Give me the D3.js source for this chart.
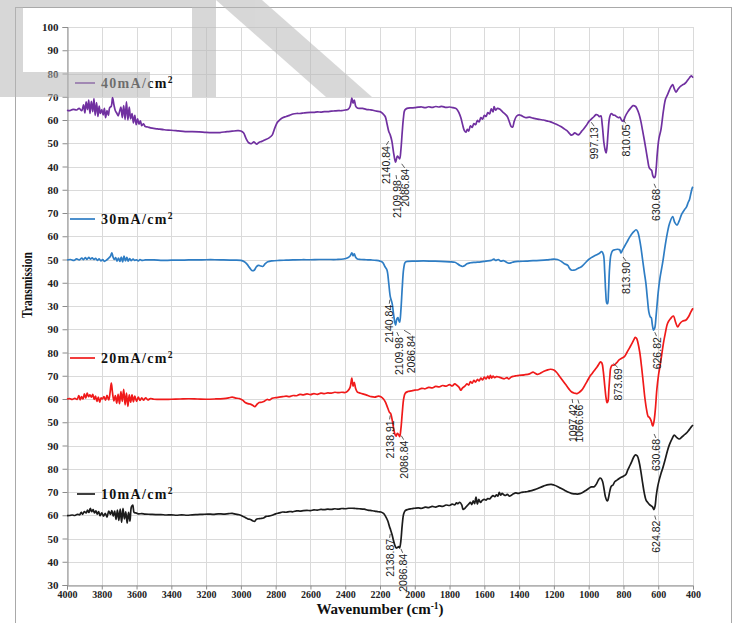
<!DOCTYPE html>
<html>
<head>
<meta charset="utf-8">
<script src="https://cdn.jsdelivr.net/npm/d3@7"></script>
<style>
  html, body { margin: 0; padding: 0; background: #fff; }
  svg { display: block; }
</style>
</head>
<body>
<svg id="chart" width="736" height="623"></svg>
<script>
// ---- axis values -------------------------------------------------------
const xTicks = [4000, 3800, 3600, 3400, 3200, 3000, 2800, 2600, 2400, 2200,
                2000, 1800, 1600, 1400, 1200, 1000, 800, 600, 400];

// stacked y-axis labels, top to bottom (one row per grid line)
const yTickLabels = [100, 90, 80, 70, 60, 50, 40,
                     80, 70, 60, 50, 40, 30,
                     90, 80, 70, 60, 50,
                     90, 80, 70, 60, 50, 40, 30];

// ---- series ------------------------------------------------------------
const seriesNames  = ["40mA/cm", "30mA/cm", "20mA/cm", "10mA/cm"];
const seriesColors = ["#7030a0", "#2e7dc4", "#f01a1a", "#1c1c1c"];
// row of yTickLabels where each spectrum's own scale starts
const panelStart   = [0, 7, 13, 18];

// spectra: [wavenumber (cm-1), transmission]
const spectrum40 = [
  [4000,64.2],[3985,64.0],[3965,64.6],[3945,64.3],[3930,65.0],[3915,64.0],[3905,66.5],[3897,63.0],
  [3890,67.8],[3882,64.5],[3875,68.6],[3868,62.8],[3860,68.0],[3852,63.6],[3845,69.2],[3838,62.0],
  [3830,67.5],[3822,61.5],[3815,66.0],[3808,62.8],[3800,64.5],[3792,62.2],[3785,65.0],[3778,61.0],
  [3770,64.0],[3762,62.0],[3755,65.2],[3745,66.0],[3738,69.6],[3730,66.5],[3722,64.0],[3714,63.0],
  [3706,61.8],[3698,63.5],[3690,65.5],[3682,61.0],[3674,66.2],[3666,60.2],[3658,67.8],[3650,60.0],
  [3642,65.5],[3634,60.5],[3626,62.8],[3618,58.8],[3610,62.0],[3602,58.0],[3594,60.5],[3586,58.2],
  [3578,59.6],[3570,57.6],[3560,58.3],[3550,57.2],[3535,57.0],[3520,56.6],[3480,56.2],[3440,55.8],
  [3400,55.6],[3360,55.3],[3320,55.0],[3280,55.0],[3240,54.9],[3200,54.7],[3160,54.6],[3120,54.6],
  [3080,55.0],[3050,55.2],[3020,55.4],[3000,55.3],[2985,54.5],[2970,52.0],[2955,50.2],[2940,49.8],
  [2925,50.6],[2910,49.6],[2895,50.4],[2880,50.8],[2860,51.5],[2840,52.2],[2820,53.5],[2810,55.5],
  [2800,57.5],[2790,59.0],[2775,60.2],[2760,61.0],[2740,61.5],[2720,62.0],[2700,62.6],[2680,62.8],
  [2660,62.8],[2640,63.0],[2620,63.2],[2600,63.3],[2580,63.3],[2560,63.5],[2540,63.4],[2520,63.6],
  [2500,63.6],[2480,63.8],[2460,63.9],[2440,64.0],[2420,64.0],[2400,64.3],[2385,64.5],[2372,65.8],
  [2362,69.4],[2355,67.2],[2348,68.6],[2340,66.0],[2330,65.2],[2320,65.0],[2300,65.0],[2280,64.6],
  [2260,64.4],[2240,64.2],[2220,63.8],[2200,63.6],[2185,62.8],[2170,61.5],[2160,58.5],[2150,55.2],
  [2140.84,53.5],[2132,51.0],[2122,46.0],[2115,43.0],[2109.98,41.9],[2100,44.5],[2094,44.0],
  [2086.84,43.3],[2080,47.0],[2072,55.0],[2065,61.0],[2058,64.2],[2045,65.0],[2020,65.2],[2000,65.3],
  [1980,65.5],[1960,65.6],[1940,65.3],[1920,65.7],[1900,65.4],[1880,65.8],[1860,65.6],[1845,65.9],
  [1820,65.4],[1800,65.6],[1780,65.3],[1760,64.8],[1745,63.0],[1735,61.0],[1725,58.0],[1715,55.5],
  [1705,54.8],[1698,56.0],[1690,55.2],[1680,57.5],[1670,56.8],[1660,58.5],[1650,58.0],[1640,59.8],
  [1630,59.2],[1620,61.0],[1610,60.4],[1600,62.0],[1590,61.5],[1580,63.2],[1570,62.6],[1560,64.8],
  [1550,63.5],[1544,65.8],[1535,64.2],[1525,65.0],[1510,64.6],[1495,63.5],[1480,62.5],[1468,61.5],
  [1455,59.0],[1445,57.2],[1437,57.0],[1428,59.5],[1415,61.6],[1400,62.2],[1390,62.0],[1375,61.4],
  [1360,61.0],[1340,61.2],[1320,60.8],[1300,60.5],[1280,60.2],[1260,60.0],[1240,59.6],[1220,59.2],
  [1200,58.6],[1180,58.0],[1160,57.2],[1140,56.2],[1125,55.4],[1110,54.2],[1100,53.5],[1090,53.8],
  [1080,54.5],[1070,54.0],[1060,53.6],[1050,54.2],[1040,55.2],[1030,56.0],[1015,57.5],[997.13,59.5],
  [985,60.4],[970,61.4],[958,62.3],[948,62.2],[938,61.4],[930,61.8],[922,58.0],[912,50.0],[905,47.0],
  [900,45.8],[895,48.0],[888,55.0],[880,61.0],[870,62.8],[860,62.2],[850,62.0],[840,61.5],[830,61.0],
  [820,61.2],[810.05,59.8],[800,59.6],[790,61.5],[775,63.5],[760,65.0],[745,66.2],[730,65.8],
  [720,64.5],[710,62.5],[700,59.5],[690,55.5],[680,51.4],[670,47.0],[660,42.5],[652,39.5],[645,38.8],
  [638,38.3],[634,37.0],[630.68,36.0],[624,35.2],[618,35.6],[612,39.0],[605,46.0],[596,52.0],
  [584,56.0],[570,64.0],[558,69.0],[546,71.0],[535,73.0],[525,74.5],[517,75.2],[508,73.5],[498,72.0],
  [488,73.0],[476,74.2],[462,75.0],[450,75.5],[440,76.2],[430,77.2],[420,78.2],[410,79.0],[404,78.6],
  [400,78.2]
];

const spectrum30 = [
  [4000,49.8],[3980,50.0],[3960,49.6],[3945,50.3],[3930,49.8],[3915,50.6],[3905,49.9],[3895,50.8],
  [3885,50.0],[3875,50.9],[3865,50.2],[3855,50.7],[3845,50.0],[3835,50.5],[3825,49.6],[3815,50.3],
  [3805,49.4],[3795,50.0],[3785,49.2],[3772,49.8],[3760,50.6],[3750,51.4],[3742,52.9],[3735,51.0],
  [3728,50.0],[3720,50.8],[3712,49.3],[3704,50.6],[3696,49.2],[3688,51.0],[3680,49.0],[3672,51.5],
  [3664,49.4],[3656,50.9],[3648,49.3],[3640,50.4],[3630,49.5],[3620,50.2],[3610,49.6],[3600,49.9],
  [3590,49.4],[3580,50.0],[3570,49.6],[3550,49.8],[3500,49.8],[3450,49.6],[3400,49.7],[3350,49.7],
  [3300,49.8],[3250,49.8],[3200,49.9],[3150,49.9],[3100,49.8],[3050,49.7],[3000,49.6],[2980,49.0],
  [2965,48.0],[2950,46.5],[2935,45.2],[2922,45.5],[2912,46.8],[2900,47.5],[2890,47.3],[2875,47.0],
  [2860,48.2],[2845,49.0],[2820,49.4],[2780,49.6],[2740,49.7],[2700,49.8],[2650,49.9],[2600,49.9],
  [2550,50.0],[2500,50.0],[2450,50.0],[2410,50.2],[2385,50.8],[2372,51.5],[2362,52.9],[2355,51.6],
  [2348,52.4],[2340,51.0],[2330,50.2],[2310,50.0],[2280,49.9],[2250,49.8],[2220,49.6],[2200,49.3],
  [2185,48.8],[2172,47.0],[2160,45.5],[2150,40.0],[2140.84,34.0],[2130,31.0],[2122,26.5],[2115,23.0],
  [2109.98,21.8],[2103,24.5],[2097,25.0],[2093,24.0],[2086.84,23.0],[2080,28.0],[2072,38.0],
  [2064,46.0],[2055,48.8],[2040,49.2],[2000,49.3],[1950,49.4],[1900,49.3],[1850,49.2],[1800,49.0],
  [1770,48.8],[1755,48.2],[1740,47.4],[1725,47.0],[1712,47.4],[1700,48.2],[1680,48.6],[1650,48.8],
  [1620,49.0],[1590,49.3],[1560,49.6],[1545,50.2],[1535,49.6],[1520,50.0],[1505,49.3],[1490,49.5],
  [1470,48.7],[1460,48.4],[1445,48.6],[1430,49.0],[1400,49.2],[1360,49.3],[1320,49.5],[1280,49.6],
  [1240,49.8],[1220,50.0],[1200,50.2],[1180,50.0],[1160,49.3],[1140,48.2],[1120,47.5],[1110,46.2],
  [1100,45.5],[1085,45.4],[1070,45.8],[1055,46.4],[1040,47.0],[1020,48.5],[1000,50.0],[985,50.8],
  [960,51.8],[940,52.6],[925,53.4],[915,52.0],[908,45.0],[902,36.0],[896,31.3],[891,31.0],[886,36.0],
  [880,46.0],[872,52.0],[862,53.8],[850,54.2],[835,54.4],[822,54.2],[813.90,52.8],[806,54.0],
  [795,55.5],[780,57.5],[765,59.5],[750,61.2],[740,62.0],[728,62.8],[718,62.0],[708,59.0],[698,54.5],
  [690,50.0],[680,44.5],[671,39.8],[662,33.0],[654,27.5],[646,25.4],[640,25.0],[634,22.0],
  [626.82,19.6],[620,20.5],[612,26.0],[600,36.0],[590,42.0],[575,48.4],[560,56.0],[546,62.0],
  [535,65.5],[517,68.4],[505,66.0],[492,64.8],[480,66.5],[465,69.5],[450,71.3],[438,72.5],[428,74.5],
  [421,75.6],[412,78.5],[404,80.8],[400,81.2]
];

const spectrum20 = [
  [4000,60.0],[3985,60.2],[3970,59.8],[3955,60.3],[3942,59.8],[3932,61.5],[3924,59.6],[3916,61.0],
  [3908,60.0],[3900,62.2],[3892,60.4],[3884,62.5],[3876,61.0],[3868,61.8],[3860,60.8],[3852,62.0],
  [3844,59.8],[3836,61.2],[3828,59.0],[3820,60.8],[3812,58.6],[3804,60.5],[3796,60.0],[3788,61.0],
  [3778,59.5],[3770,61.6],[3760,59.6],[3752,63.0],[3745,66.8],[3738,62.5],[3730,59.2],[3722,61.5],
  [3714,58.2],[3706,62.0],[3698,58.0],[3690,63.2],[3682,59.0],[3674,64.2],[3666,57.5],[3658,62.5],
  [3650,56.8],[3642,61.8],[3634,58.6],[3626,61.8],[3618,58.8],[3610,61.2],[3600,59.0],[3590,60.8],
  [3580,59.4],[3570,60.5],[3560,59.5],[3548,60.5],[3535,59.6],[3520,60.2],[3500,59.9],[3450,59.8],
  [3400,59.9],[3350,60.0],[3300,60.1],[3250,60.0],[3200,59.9],[3150,60.0],[3100,60.2],[3070,60.5],
  [3050,60.8],[3030,60.4],[3010,60.2],[2990,59.5],[2975,58.5],[2960,58.0],[2945,57.8],[2930,57.2],
  [2920,56.7],[2910,57.5],[2895,58.5],[2880,58.6],[2865,59.0],[2850,59.8],[2835,59.6],[2820,60.3],
  [2800,60.6],[2780,60.8],[2760,61.0],[2740,61.2],[2720,61.0],[2700,61.5],[2680,61.4],[2660,62.0],
  [2640,61.8],[2620,62.2],[2600,61.9],[2580,62.3],[2560,62.0],[2540,62.5],[2520,62.3],[2500,62.6],
  [2480,62.5],[2460,62.9],[2440,62.7],[2420,62.9],[2400,62.8],[2385,63.5],[2372,65.0],[2362,69.0],
  [2355,65.5],[2348,67.2],[2340,64.5],[2330,63.0],[2312,62.5],[2290,62.0],[2270,61.5],[2250,61.0],
  [2230,60.8],[2210,61.2],[2195,61.0],[2180,60.0],[2168,58.5],[2155,56.0],[2145,54.2],[2138.91,53.8],
  [2130,51.0],[2122,47.5],[2115,45.0],[2108,44.0],[2100,45.2],[2094,44.8],[2086.84,43.8],[2080,47.0],
  [2072,54.0],[2064,60.0],[2055,62.5],[2040,63.2],[2020,63.5],[2000,63.8],[1980,64.0],[1960,64.6],
  [1940,64.4],[1920,65.0],[1900,64.8],[1880,65.4],[1860,65.2],[1840,65.8],[1820,65.5],[1800,66.2],
  [1785,65.6],[1770,66.5],[1758,65.9],[1745,65.0],[1735,63.8],[1725,64.8],[1712,65.5],[1700,66.5],
  [1690,66.0],[1680,67.5],[1670,66.8],[1660,68.0],[1650,67.3],[1640,68.4],[1630,67.8],[1620,69.0],
  [1610,68.2],[1600,69.4],[1590,68.6],[1580,69.8],[1572,68.8],[1565,70.2],[1558,69.0],[1550,69.8],
  [1540,69.2],[1530,69.6],[1515,69.4],[1500,69.0],[1485,68.7],[1470,69.2],[1460,68.6],[1445,69.5],
  [1430,69.8],[1415,70.0],[1400,70.2],[1370,70.4],[1340,70.8],[1320,71.6],[1310,71.2],[1295,70.6],
  [1280,71.0],[1260,71.8],[1240,72.4],[1220,72.8],[1200,72.5],[1185,71.5],[1170,70.0],[1155,68.5],
  [1140,67.0],[1125,65.5],[1110,64.0],[1097.42,63.0],[1085,62.6],[1075,62.4],[1066.66,62.3],
  [1055,62.8],[1040,63.8],[1025,65.5],[1010,67.5],[995,69.5],[980,71.0],[965,72.5],[950,74.0],
  [940,75.2],[932,76.0],[924,75.5],[916,72.0],[908,66.0],[900,60.5],[894,58.4],[889,59.0],[884,64.0],
  [878,70.0],[873.69,73.2],[865,74.5],[853,74.6],[840,75.5],[825,76.8],[810,77.5],[795,78.2],
  [780,80.0],[765,82.0],[750,84.0],[740,85.5],[732,86.5],[724,86.0],[716,84.0],[706,80.0],[696,74.0],
  [686,67.0],[676,60.0],[666,55.0],[658,52.5],[650,52.0],[640,50.5],[634,48.8],[630.68,48.4],
  [624,50.5],[616,56.0],[608,64.0],[598,70.5],[590,74.0],[580,79.0],[570,84.0],[560,88.0],[546,92.6],
  [530,94.5],[513,95.7],[500,93.0],[488,91.0],[475,92.5],[460,93.5],[440,94.0],[425,95.5],[412,97.5],
  [400,99.0]
];

const spectrum10 = [
  [4000,59.8],[3985,59.9],[3970,60.1],[3955,59.9],[3940,60.4],[3928,60.2],[3918,61.2],[3910,60.4],
  [3900,61.6],[3890,61.0],[3882,62.2],[3874,61.2],[3866,63.0],[3858,61.5],[3850,62.4],[3842,61.0],
  [3834,61.9],[3826,60.5],[3818,61.6],[3810,59.8],[3800,61.0],[3790,59.6],[3780,60.8],[3770,59.2],
  [3760,61.8],[3750,60.4],[3742,62.0],[3734,59.6],[3726,61.8],[3718,58.2],[3710,62.2],[3702,57.8],
  [3694,62.6],[3686,57.0],[3678,63.0],[3670,58.4],[3662,61.5],[3654,56.6],[3646,61.2],[3638,57.5],
  [3630,63.5],[3622,64.4],[3614,61.2],[3604,61.0],[3590,60.6],[3570,60.7],[3550,60.5],[3520,60.4],
  [3490,60.3],[3460,60.3],[3430,60.1],[3400,60.2],[3370,60.0],[3340,60.2],[3310,60.0],[3280,60.2],
  [3250,60.3],[3220,60.4],[3190,60.5],[3160,60.4],[3130,60.6],[3100,60.5],[3070,60.7],[3050,60.8],
  [3030,60.5],[3010,60.2],[2990,59.6],[2975,59.0],[2960,58.4],[2945,58.2],[2930,57.5],[2920,57.4],
  [2912,58.2],[2900,58.5],[2885,58.6],[2870,58.8],[2855,59.5],[2840,59.6],[2820,60.0],[2800,60.6],
  [2780,61.0],[2760,61.4],[2740,61.3],[2720,61.6],[2700,61.5],[2680,61.9],[2660,61.8],[2640,62.0],
  [2620,62.1],[2600,62.0],[2580,62.3],[2560,62.2],[2540,62.5],[2520,62.4],[2500,62.6],[2480,62.5],
  [2460,62.8],[2440,62.6],[2420,62.9],[2400,62.8],[2380,63.0],[2360,63.0],[2340,62.9],[2320,62.8],
  [2290,62.6],[2270,62.2],[2250,62.0],[2230,61.8],[2210,61.5],[2195,61.4],[2180,60.8],[2168,59.5],
  [2155,57.5],[2145,55.0],[2138.87,53.7],[2130,51.5],[2122,49.0],[2114,47.0],[2106,45.9],[2098,46.2],
  [2092,46.5],[2086.84,46.0],[2080,49.0],[2072,56.0],[2064,60.5],[2055,62.0],[2040,62.5],[2020,62.8],
  [2000,63.0],[1980,63.2],[1960,63.0],[1940,63.5],[1920,63.3],[1900,63.8],[1880,63.5],[1860,64.0],
  [1840,63.8],[1820,64.4],[1800,64.2],[1785,64.8],[1770,64.5],[1760,65.3],[1752,65.0],[1742,65.6],
  [1730,64.5],[1722,62.5],[1712,63.0],[1700,64.0],[1690,64.8],[1680,65.5],[1672,64.6],[1664,66.2],
  [1656,65.0],[1648,67.8],[1640,64.8],[1632,66.8],[1622,65.5],[1612,66.4],[1600,66.8],[1590,66.5],
  [1580,67.2],[1570,67.0],[1560,67.8],[1550,68.4],[1540,68.0],[1530,68.8],[1522,68.2],[1514,69.8],
  [1506,68.6],[1498,69.4],[1488,68.8],[1478,68.5],[1468,69.0],[1455,68.2],[1445,68.6],[1432,69.2],
  [1420,69.6],[1405,69.4],[1390,69.8],[1370,70.0],[1350,70.2],[1330,70.6],[1310,71.0],[1290,71.6],
  [1270,72.2],[1250,72.8],[1230,73.2],[1215,73.3],[1200,73.0],[1180,72.4],[1160,71.6],[1140,70.8],
  [1120,70.0],[1100,69.4],[1080,69.2],[1064,69.1],[1050,69.3],[1035,69.8],[1020,70.5],[1000,71.5],
  [985,72.2],[968,72.3],[955,73.5],[945,75.0],[935,76.0],[928,75.8],[920,74.5],[912,71.5],[904,68.0],
  [896,66.4],[891,66.2],[886,67.5],[878,70.5],[870,72.5],[860,73.0],[850,74.4],[835,75.2],[820,76.0],
  [800,76.8],[786,77.5],[775,79.5],[762,81.5],[750,83.5],[740,85.2],[730,86.0],[720,85.5],[710,83.0],
  [700,79.0],[690,74.0],[680,69.5],[670,66.5],[660,65.5],[650,64.6],[640,64.0],[632,63.5],
  [624.82,62.4],[618,64.0],[612,68.0],[604,72.0],[595,75.0],[584,78.0],[575,80.0],[560,84.0],
  [546,88.0],[535,90.5],[520,93.0],[508,94.5],[494,93.5],[479,92.8],[465,93.6],[452,94.5],[440,95.2],
  [425,96.5],[412,97.8],[400,98.8]
];

const spectra = [spectrum40, spectrum30, spectrum20, spectrum10];

// peak annotations: [series index, wavenumber, label]
const peakSeries = [0, 0, 0, 0, 0, 0,  1, 1, 1, 1, 1,  2, 2, 2, 2, 2, 2,  3, 3, 3];
const peakWaves  = [2140.84, 2109.98, 2086.84, 997.13, 810.05, 630.68,
                    2140.84, 2109.98, 2086.84, 813.90, 626.82,
                    2138.91, 2086.84, 1097.42, 1066.66, 873.69, 630.68,
                    2138.87, 2086.84, 624.82];
const peakTexts  = ["2140.84", "2109.98", "2086.84", "997.13", "810.05", "630.68",
                    "2140.84", "2109.98", "2086.84", "813.90", "626.82",
                    "2138.91", "2086.84", "1097.42", "1066.66", "873.69", "630.68",
                    "2138.87", "2086.84", "624.82"];

// ---- layout ------------------------------------------------------------
const W = 736, H = 623;
const plot = { left: 67, right: 693, top: 27, bottom: 585 };
// label offsets from the marked point (pixels): text top end at (dx, dy)
const peakOffsets = [[-4, 7], [1, 14], [5, 6], [5, 2], [4, 0], [3, 9],
                     [-1, 4], [3, 8], [11, 9], [5, 5], [3, 3],
                     [-1, 3], [4, 0], [1, 8], [2, 7], [7, -4], [3, 9],
                     [-1, 5], [3, 2], [2, 7]];
const legendPos = [[75, 83], [70, 219], [70, 358], [77, 494]];

const svg = d3.select("#chart");

const x = d3.scaleLinear().domain([4000, 400]).range([plot.left, plot.right]);
const y = d3.scaleLinear().domain([0, yTickLabels.length - 1]).range([plot.top, plot.bottom]);

// convert a transmission value of spectrum k to a stacked row position
const rowOf = (k, v) => panelStart[k] + (yTickLabels[panelStart[k]] - v) / 10;

// outer frame
svg.append("rect")
  .attr("x", 15.5).attr("y", 7.5).attr("width", 716).attr("height", 640)
  .attr("fill", "#fff").attr("stroke", "#a9a9a9").attr("stroke-width", 1);

// grid
const grid = svg.append("g").attr("stroke", "#dadada").attr("stroke-width", 1);
grid.selectAll("line.h").data(d3.range(yTickLabels.length)).join("line")
  .attr("class", "h")
  .attr("x1", plot.left).attr("x2", plot.right)
  .attr("y1", d => Math.round(y(d)) + 0.5).attr("y2", d => Math.round(y(d)) + 0.5);
grid.selectAll("line.v").data(xTicks).join("line")
  .attr("class", "v")
  .attr("y1", plot.top).attr("y2", plot.bottom)
  .attr("x1", d => Math.round(x(d)) + 0.5).attr("x2", d => Math.round(x(d)) + 0.5);

// axes
const serif = "'Liberation Serif', 'Times New Roman', serif";
const yAxis = svg.append("g")
  .attr("transform", `translate(${plot.left + 0.5},0)`)
  .call(d3.axisLeft(y).tickValues(d3.range(yTickLabels.length))
        .tickFormat(i => yTickLabels[i]).tickSize(5).tickPadding(4));
const xAxis = svg.append("g")
  .attr("transform", `translate(0,${plot.bottom + 0.5})`)
  .call(d3.axisBottom(x).tickValues(xTicks).tickFormat(d3.format("d"))
        .tickSize(4).tickPadding(1));
[yAxis, xAxis].forEach(g => {
  g.select(".domain").attr("stroke", "#8c8c8c");
  g.selectAll(".tick line").attr("stroke", "#8c8c8c");
  g.selectAll(".tick text")
    .attr("font-family", serif).attr("font-weight", "bold").attr("fill", "#222");
});
yAxis.selectAll(".tick text").attr("font-size", 11);
xAxis.selectAll(".tick text").attr("font-size", 10);

// spectra
const line = d3.line()
  .x(d => x(d[0]))
  .curve(d3.curveCatmullRom.alpha(0.5));
spectra.forEach((s, k) => {
  svg.append("path")
    .datum(s)
    .attr("fill", "none")
    .attr("stroke", seriesColors[k])
    .attr("stroke-width", 1.7)
    .attr("stroke-linejoin", "round")
    .attr("d", line.y(d => y(rowOf(k, d[1]))));
});

// peak labels
const valueAt = (k, w) => {
  const s = spectra[k];
  let best = s[0];
  s.forEach(p => { if (Math.abs(p[0] - w) < Math.abs(best[0] - w)) best = p; });
  return best[1];
};
const labels = svg.append("g")
  .attr("font-family", "'Liberation Sans Narrow', 'Liberation Sans', Arial, sans-serif")
  .attr("font-size", 10.5).attr("fill", "#1a1a1a");
peakWaves.forEach((w, i) => {
  const k = peakSeries[i];
  const px = x(w), py = y(rowOf(k, valueAt(k, w)));
  const tx = px + peakOffsets[i][0], ty = py + peakOffsets[i][1] + 4;
  labels.append("line")
    .attr("x1", tx).attr("y1", ty - 1)
    .attr("x2", tx + (px - tx) * 0.6).attr("y2", ty - 5)
    .attr("stroke", "#333").attr("stroke-width", 0.8);
  labels.append("text")
    .attr("transform", `translate(${tx},${ty}) rotate(-90)`)
    .attr("text-anchor", "end")
    .attr("dominant-baseline", "central")
    .text(peakTexts[i]);
});

// legends
seriesNames.forEach((name, k) => {
  const [lx, ly] = legendPos[k];
  svg.append("line")
    .attr("x1", lx).attr("x2", 95).attr("y1", ly).attr("y2", ly)
    .attr("stroke", seriesColors[k]).attr("stroke-width", 1.7);
  const t = svg.append("text")
    .attr("x", 101).attr("y", ly + 4.5)
    .attr("font-family", serif).attr("font-weight", "bold")
    .attr("font-size", 14).attr("letter-spacing", 1.3).attr("fill", "#111");
  t.append("tspan").text(name);
  t.append("tspan").attr("font-size", 9.5).attr("dy", -5).text("2");
});

// axis titles
const xt = svg.append("text")
  .attr("x", (plot.left + plot.right) / 2).attr("y", 614)
  .attr("text-anchor", "middle")
  .attr("font-family", serif).attr("font-weight", "bold").attr("font-size", 15)
  .attr("fill", "#111");
xt.append("tspan").text("Wavenumber (cm");
xt.append("tspan").attr("font-size", 9.5).attr("dy", -5).text("-1");
xt.append("tspan").attr("dy", 5).text(")");

svg.append("text")
  .attr("transform", "translate(32,285) rotate(-90)")
  .attr("text-anchor", "middle")
  .attr("font-family", serif).attr("font-weight", "bold").attr("font-size", 14)
  .attr("textLength", 66).attr("lengthAdjust", "spacingAndGlyphs")
  .attr("fill", "#111")
  .text("Transmission");

// light gray letter shapes across the upper left corner
const mark = svg.append("g").attr("fill", "#b8b8b8").attr("opacity", 0.55);
[[0, 0, 23, 97], [0, 0, 195, 7], [0, 72, 150, 25], [192, 0, 24, 97]].forEach(r => {
  mark.append("rect").attr("x", r[0]).attr("y", r[1]).attr("width", r[2]).attr("height", r[3]);
});
mark.append("polygon").attr("points", "216,0 262,0 372,97 326,97");
</script>
